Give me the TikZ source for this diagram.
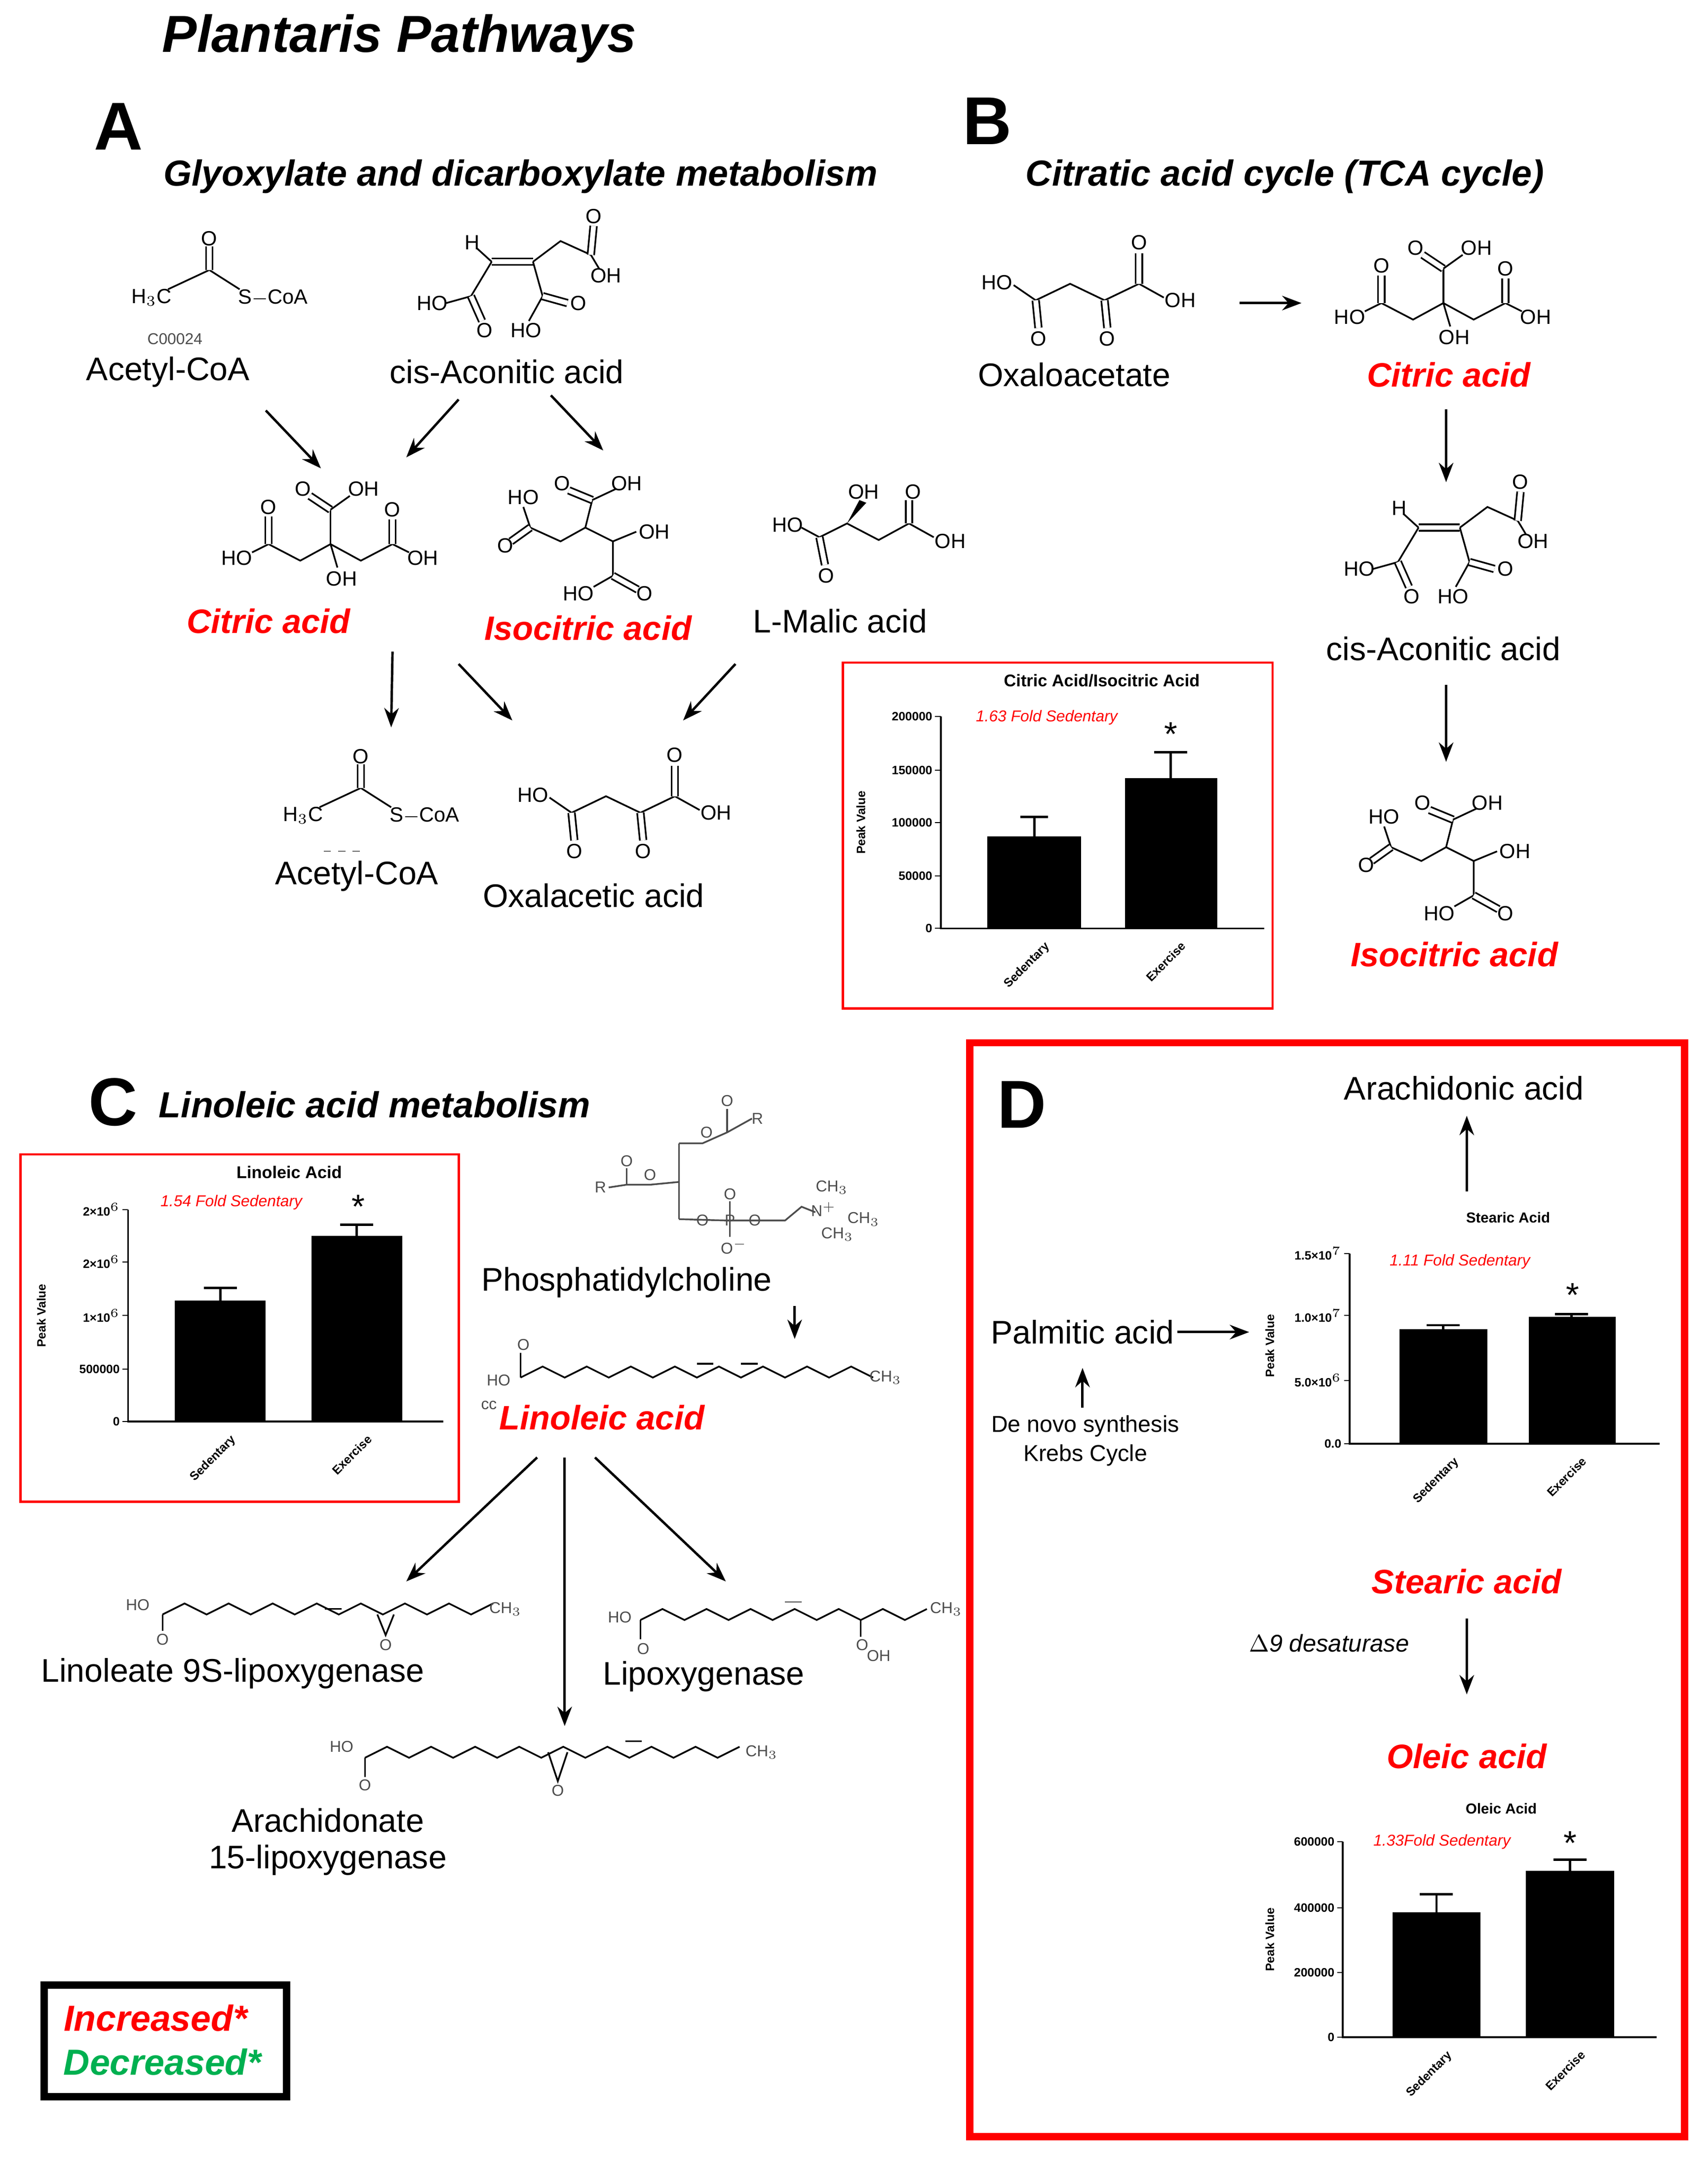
\documentclass[tikz,border=0pt]{standalone}
\usepackage{fontspec}
\setmainfont{Liberation Sans}
\usetikzlibrary{arrows.meta}
\definecolor{rd}{RGB}{255,0,0}
\definecolor{gr}{RGB}{0,176,80}
\newcommand\zz[4]{\draw[bd] (#1,#2) \foreach \i in {1,...,#3}{ -- ({#1+\i*#4},{#2-8*mod(\i,2)}) };}
\begin{document}
\begin{tikzpicture}[x=0.02cm,y=-0.02cm,
 lbl/.style={font=\fontsize{13.5}{15}\selectfont, inner sep=1pt},
 lblr/.style={font=\bfseries\itshape\fontsize{14}{16}\selectfont, text=rd, inner sep=1pt},
 hd/.style={font=\bfseries\itshape\fontsize{15}{18}\selectfont},
 big/.style={font=\bfseries\fontsize{28}{30}\selectfont},
 atm/.style={font=\fontsize{8.5}{9}\selectfont, inner sep=0.3pt},
 sat/.style={font=\fontsize{6.5}{7}\selectfont, inner sep=0.3pt, text=black!70},
 bd/.style={line width=0.7pt},
 arr/.style={-{Stealth[length=8pt,width=6pt]}, line width=1pt},
 tk/.style={font=\fontsize{5}{6}\selectfont\bfseries, inner sep=1pt},
 ctt/.style={font=\fontsize{7}{8}\selectfont\bfseries, inner sep=1pt},
 fold/.style={font=\fontsize{6.5}{8}\selectfont\itshape, text=rd, inner sep=1pt},
 star/.style={font=\fontsize{14}{14}\selectfont, inner sep=0pt},
 dbl/.style={bd, double distance=2pt},
 citric/.pic={
  \draw[bd] (-57,16)--(-45,10)--(-22,22)--(0,10)--(22,22)--(45,10)--(57,16);
  \draw[dbl] (-45,10)--(-45,-10); \draw[dbl] (45,10)--(45,-8);
  \draw[bd] (0,10)--(0,-15); \draw[dbl] (0,-15)--(-15,-25); \draw[bd] (0,-15)--(14,-25);
  \draw[bd] (0,10)--(5,27);
  \node[atm] at (-45,-17){O}; \node[atm] at (45,-15){O}; \node[atm] at (-20,-30){O};
  \node[atm] at (24,-30){OH}; \node[atm] at (-68,20){HO}; \node[atm] at (67,20){OH}; \node[atm] at (8,35){OH};},
 isocit/.pic={
  \draw[bd] (-45,-20)--(-40,-5)--(-18,5)--(0,-5)--(20,5)--(37,-2);
  \draw[dbl] (-40,-5)--(-54,5); \draw[bd] (0,-5)--(5,-25); \draw[dbl] (5,-25)--(-12,-32);
  \draw[bd] (5,-25)--(22,-33); \draw[bd] (20,5)--(20,30)--(6,38); \draw[dbl] (20,30)--(38,40);
  \node[atm] at (-45,-27){HO}; \node[atm] at (-17,-37){O}; \node[atm] at (30,-37){OH};
  \node[atm] at (-58,8){O}; \node[atm] at (50,-2){OH}; \node[atm] at (-5,43){HO}; \node[atm] at (43,43){O};},
 malic/.pic={
  \draw[bd] (-48,3)--(-35,10)--(-15,0)--(8,12)--(30,0)--(48,10);
  \draw[dbl] (-35,10)--(-31,30); \draw[dbl] (30,0)--(30,-17);
  \fill (-15,0)--(-6,-17)--(-1,-15)--cycle;
  \node[atm] at (-58,1){HO}; \node[atm] at (-3,-23){OH}; \node[atm] at (33,-23){O};
  \node[atm] at (-30,38){O}; \node[atm] at (60,13){OH};},
 oxalo/.pic={
  \draw[bd] (-56,-1)--(-40,10)--(-15,-2)--(10,10)--(35,-2)--(53,8);
  \draw[dbl] (-40,10)--(-38,30); \draw[dbl] (10,10)--(12,30); \draw[dbl] (35,-2)--(35,-24);
  \node[atm] at (-68,-3){HO}; \node[atm] at (-38,38){O}; \node[atm] at (12,38){O};
  \node[atm] at (35,-32){O}; \node[atm] at (65,10){OH};},
 acoa/.pic={
  \draw[bd] (-30,14)--(0,0)--(22,14); \draw[dbl] (0,0)--(0,-17);
  \node[atm] at (0,-23){O}; \node[atm] at (-42,20){H$_3$C}; \node[atm,anchor=west] at (20,20){S$-$CoA};},
 cisac/.pic={
  \draw[dbl] (-15,0)--(15,0); \draw[bd] (-15,0)--(-26,-10);
  \draw[bd] (-15,0)--(-30,25)--(-48,30); \draw[dbl] (-30,25)--(-22,43);
  \draw[bd] (15,0)--(35,-15)--(57,-5)--(63,5); \draw[dbl] (57,-5)--(59,-26);
  \draw[bd] (15,0)--(22,25)--(12,43); \draw[dbl] (22,25)--(40,30);
  \node[atm] at (-29,-14){H}; \node[atm] at (59,-33){O}; \node[atm] at (68,10){OH};
  \node[atm] at (-58,30){HO}; \node[atm] at (-20,50){O}; \node[atm] at (10,50){HO}; \node[atm] at (48,30){O};},
]
\useasboundingbox (0,0) rectangle (1240,1576);
\fill[white] (0,0) rectangle (1240,1576);

\node[font=\bfseries\itshape\fontsize{21.5}{23}\selectfont] (title) at (290,28) {Plantaris Pathways};
% ---------- A
\node[big] (A) at (86,92) {A};
\node[hd] (hA) at (378,128) {Glyoxylate and dicarboxylate metabolism};
\pic at (152,196) {acoa}; \node[sat] at (127,246){C00024};
\node[lbl] (acoa1) at (122,270) {Acetyl-CoA};
\pic at (372,190) {cisac};
\node[lbl] (cis1) at (368,270) {cis-Aconitic acid};
\coordinate (a1s) at (193,298); \coordinate (a1e) at (233,340);
\coordinate (a2s) at (333,290); \coordinate (a2e) at (295,332);
\coordinate (a3s) at (400,287); \coordinate (a3e) at (438,327);
\draw[arr] (a1s)--(a1e); \draw[arr] (a2s)--(a2e); \draw[arr] (a3s)--(a3e);
\pic at (240,385) {citric}; \node[lblr] (cit1) at (195,451) {Citric acid};
\pic at (425,388) {isocit}; \node[lblr] (iso1) at (427,456) {Isocitric acid};
\pic at (630,380) {malic}; \node[lbl] (mal) at (610,451) {L-Malic acid};
\coordinate (a4s) at (285,473); \coordinate (a4e) at (284,528);
\coordinate (a5s) at (333,482); \coordinate (a5e) at (372,523);
\coordinate (a6s) at (534,482); \coordinate (a6e) at (496,523);
\draw[arr] (a4s)--(a4e); \draw[arr] (a5s)--(a5e); \draw[arr] (a6s)--(a6e);
\pic at (262,572) {acoa}; \draw[dashed,line width=0.4pt,black!60] (235,618)--(262,618);
\node[lbl] (acoa2) at (259,636) {Acetyl-CoA};
\pic at (455,580) {oxalo}; \node[lbl] (oxa) at (431,650) {Oxalacetic acid};
% chart 1
\draw[rd,line width=1pt] (612,481) rectangle (924,732);
\node[ctt] at (800,494) {Citric Acid/Isocitric Acid};
\node[fold] at (760,521) {1.63 Fold Sedentary};
\draw[line width=0.8pt] (683,520)--(683,674)--(918,674);
\foreach \y/\t in {520/200000,559/150000,597/100000,636/50000,674/0}{\draw (679,\y)--(683,\y); \node[tk,left] at (679,\y){\t};}
\node[tk,rotate=90] at (625,597) {Peak Value};
\fill (717,607) rectangle (785,674); \fill (817,565) rectangle (884,674);
\draw[line width=1pt] (751,607)--(751,593) (741,593)--(761,593) (850,565)--(850,546) (838,546)--(862,546);
\node[star] at (850,533){*};
\node[tk,rotate=45,anchor=north east] at (758,680){Sedentary};
\node[tk,rotate=45,anchor=north east] at (857,680){Exercise};
% ---------- B
\node[big] (B) at (717,88) {B};
\node[hd] (hB) at (933,128) {Citratic acid cycle (TCA cycle)};
\pic at (792,208) {oxalo}; \node[lbl] (oxb) at (780,272) {Oxaloacetate};
\coordinate (b1s) at (900,220); \coordinate (b1e) at (945,220); \draw[arr] (b1s)--(b1e);
\pic at (1048,210) {citric}; \node[lblr] (citb) at (1052,272) {Citric acid};
\coordinate (b2s) at (1050,297); \coordinate (b2e) at (1050,350); \draw[arr] (b2s)--(b2e);
\pic at (1045,383) {cisac}; \node[lbl] (cisb) at (1048,471) {cis-Aconitic acid};
\coordinate (b3s) at (1050,497); \coordinate (b3e) at (1050,553); \draw[arr] (b3s)--(b3e);
\pic at (1050,620) {isocit}; \node[lblr] (isob) at (1056,693) {Isocitric acid};
% ---------- C
\node[big] (C) at (82,800) {C};
\node[hd] (hC) at (272,802) {Linoleic acid metabolism};
\draw[rd,line width=1pt] (15,838) rectangle (333,1090);
\node[ctt] at (210,851) {Linoleic Acid};
\node[fold] at (168,873) {1.54 Fold Sedentary};
\draw[line width=0.8pt] (93,878)--(93,1032)--(322,1032);
\foreach \y/\t in {878/2×10$^6$,916/2×10$^6$,955/1×10$^6$,994/500000,1032/0}{\draw (89,\y)--(93,\y); \node[tk,left] at (89,\y){\t};}
\node[tk,rotate=90] at (30,955) {Peak Value};
\fill (127,944) rectangle (193,1032); \fill (226,897) rectangle (292,1032);
\draw[line width=1pt] (160,944)--(160,935) (148,935)--(172,935) (259,897)--(259,889) (247,889)--(271,889);
\node[star] at (260,876){*};
\node[tk,rotate=45,anchor=north east] at (167,1038){Sedentary};
\node[tk,rotate=45,anchor=north east] at (266,1038){Exercise};
% phosphatidylcholine
\draw[bd,black!70] (493,830)--(493,885);
\draw[bd,black!70] (493,830)--(510,830)--(528,822)--(546,812); \draw[bd,black!70] (528,822)--(528,805);
\draw[bd,black!70] (493,858)--(472,860)--(455,860)--(442,862); \draw[bd,black!70] (455,860)--(455,848);
\draw[bd,black!70] (493,885)--(528,886)--(570,886)--(582,876)--(592,880);
\draw[bd,black!70] (530,886)--(530,872) (530,886)--(530,898);
\node[sat] at (513,822){O}; \node[sat] at (528,799){O}; \node[sat] at (550,812){R};
\node[sat] at (472,853){O}; \node[sat] at (455,843){O}; \node[sat] at (436,862){R};
\node[sat] at (510,886){O}; \node[sat] at (530,886){P}; \node[sat] at (530,867){O}; \node[sat] at (533,905){O$^-$};
\node[sat] at (548,886){O}; \node[sat] at (598,878){N$^+$};
\node[sat] at (604,862){CH$_3$}; \node[sat] at (627,885){CH$_3$}; \node[sat] at (608,896){CH$_3$};
\node[lbl] (pc) at (455,931) {Phosphatidylcholine};
\coordinate (c0s) at (577,948); \coordinate (c0e) at (577,972); \draw[arr] (c0s)--(c0e);
% linoleic
\zz{378}{1000}{16}{16}
\draw[bd] (378,1000)--(378,982); \node[sat] at (380,976){O}; \node[sat] at (362,1002){HO};
\draw[bd] (506,990)--(518,990) (538,990)--(550,990);
\node[sat] at (643,1000){CH$_3$}; \node[sat] at (355,1020){cc};
\node[lblr] (lin) at (437,1029) {Linoleic acid};
\coordinate (c1s) at (390,1058); \coordinate (c1e) at (295,1148);
\coordinate (c2s) at (410,1058); \coordinate (c2e) at (410,1253);
\coordinate (c3s) at (432,1058); \coordinate (c3e) at (527,1148);
\draw[arr] (c1s)--(c1e); \draw[arr] (c2s)--(c2e); \draw[arr] (c3s)--(c3e);
% linoleate 9S
\zz{118}{1172}{15}{16}
\draw[bd] (118,1172)--(118,1184); \node[sat] at (118,1190){O}; \node[sat] at (100,1165){HO};
\draw[bd] (274,1172)--(280,1187)--(286,1172); \node[sat] at (280,1194){O};
\draw[bd] (236,1168)--(248,1168);
\node[sat] at (367,1168){CH$_3$};
\node[lbl] (l9) at (169,1215) {Linoleate 9S-lipoxygenase};
% lipoxygenase
\zz{465}{1176}{13}{16}
\draw[bd] (465,1176)--(465,1190); \node[sat] at (467,1197){O}; \node[sat] at (450,1174){HO};
\draw[bd] (625,1176)--(625,1188); \node[sat] at (626,1194){O}; \node[sat] at (638,1202){OH};
\draw[bd,black!50] (570,1163)--(582,1163);
\node[sat] at (687,1168){CH$_3$};
\node[lbl] (lox) at (511,1217) {Lipoxygenase};
% arachidonate
\zz{265}{1276}{17}{16}
\draw[bd] (265,1276)--(265,1290); \node[sat] at (265,1296){O}; \node[sat] at (248,1268){HO};
\draw[bd] (398,1272)--(405,1293)--(412,1272); \node[sat] at (405,1300){O};
\draw[bd] (454,1264)--(466,1264);
\node[sat] at (553,1272){CH$_3$};
\node[lbl,align=center] (arach) at (238,1337) {Arachidonate\\15-lipoxygenase};
% legend
\draw[line width=3pt] (32,1441) rectangle (208,1522);
\node[lblr,font=\bfseries\itshape\fontsize{15}{16}\selectfont] (inc) at (113,1465) {Increased*};
\node[lblr,text=gr,font=\bfseries\itshape\fontsize{15}{16}\selectfont] (dec) at (118,1497) {Decreased*};
% ---------- D
\draw[rd,line width=3pt] (704,757) rectangle (1223,1551);
\node[big] (D) at (742,802) {D};
\node[lbl] (ara) at (1063,790) {Arachidonic acid};
\coordinate (d1s) at (1065,865); \coordinate (d1e) at (1065,810); \draw[arr] (d1s)--(d1e);
\node[ctt,font=\fontsize{6}{7}\selectfont\bfseries] at (1095,884) {Stearic Acid};
\node[fold] at (1060,916) {1.11 Fold Sedentary};
\draw[line width=0.8pt] (980,910)--(980,1048)--(1205,1048);
\foreach \y/\t in {910/1.5×10$^7$,955/1.0×10$^7$,1002/5.0×10$^6$,1048/0.0}{\draw (976,\y)--(980,\y); \node[tk,left] at (976,\y){\t};}
\node[tk,rotate=90] at (922,977) {Peak Value};
\fill (1016,965) rectangle (1080,1048); \fill (1110,956) rectangle (1173,1048);
\draw[line width=1pt] (1048,965)--(1048,962) (1036,962)--(1060,962) (1141,956)--(1141,954) (1129,954)--(1153,954);
\node[star] at (1142,940){*};
\node[tk,rotate=45,anchor=north east] at (1055,1054){Sedentary};
\node[tk,rotate=45,anchor=north east] at (1148,1054){Exercise};
\node[lbl] (pal) at (786,967) {Palmitic acid};
\coordinate (d2e) at (907,967); \draw[arr] (pal.east)--(d2e);
\coordinate (d3s) at (786,1022); \coordinate (d3e) at (786,993); \draw[arr] (d3s)--(d3e);
\node[font=\fontsize{9.5}{12}\selectfont,align=center] (dn) at (788,1046) {De novo synthesis\\Krebs Cycle};
\node[lblr] (ste) at (1065,1148) {Stearic acid};
\node[font=\itshape\fontsize{10}{12}\selectfont] (des) at (965,1193) {$\Delta$9 desaturase};
\coordinate (d4s) at (1065,1175); \coordinate (d4e) at (1065,1230); \draw[arr] (d4s)--(d4e);
\node[lblr] (ole) at (1065,1275) {Oleic acid};
\node[ctt,font=\fontsize{6}{7}\selectfont\bfseries] at (1090,1313) {Oleic Acid};
\node[fold] at (1047,1337) {1.33Fold Sedentary};
\draw[line width=0.8pt] (975,1337)--(975,1479)--(1203,1479);
\foreach \y/\t in {1337/600000,1385/400000,1432/200000,1479/0}{\draw (971,\y)--(975,\y); \node[tk,left] at (971,\y){\t};}
\node[tk,rotate=90] at (922,1408) {Peak Value};
\fill (1011,1388) rectangle (1075,1479); \fill (1108,1358) rectangle (1172,1479);
\draw[line width=1pt] (1043,1388)--(1043,1375) (1031,1375)--(1055,1375) (1140,1358)--(1140,1350) (1128,1350)--(1152,1350);
\node[star] at (1140,1338){*};
\node[tk,rotate=45,anchor=north east] at (1050,1485){Sedentary};
\node[tk,rotate=45,anchor=north east] at (1147,1485){Exercise};
\end{tikzpicture}
\end{document}
